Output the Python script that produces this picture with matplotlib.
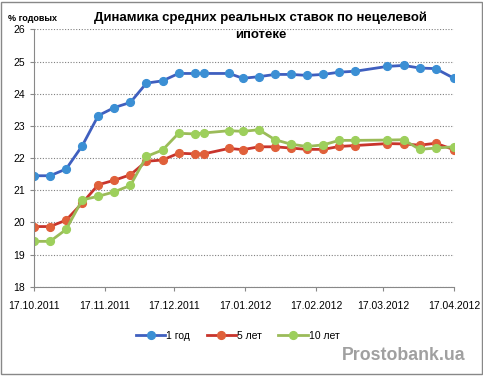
import datetime as dt
from matplotlib import pyplot as plt
import matplotlib.dates as mdates
from matplotlib.patches import Rectangle

plt.rcParams['font.family'] = ['Liberation Sans', 'DejaVu Sans']

dates = ["17.10.2011", "24.10.2011", "31.10.2011", "07.11.2011", "14.11.2011",
         "21.11.2011", "28.11.2011", "05.12.2011", "12.12.2011", "19.12.2011",
         "26.12.2011", "30.12.2011", "10.01.2012", "16.01.2012", "23.01.2012",
         "30.01.2012", "06.02.2012", "13.02.2012", "20.02.2012", "27.02.2012",
         "05.03.2012", "19.03.2012", "26.03.2012", "02.04.2012", "09.04.2012",
         "17.04.2012"]
y1 = [21.45, 21.45, 21.66, 22.38, 23.32, 23.57, 23.73, 24.33, 24.40, 24.63,
      24.63, 24.63, 24.63, 24.48, 24.53, 24.60, 24.60, 24.57, 24.60, 24.67,
      24.70, 24.85, 24.88, 24.80, 24.78, 24.48]
y5 = [19.87, 19.87, 20.07, 20.60, 21.17, 21.31, 21.48, 21.90, 21.94, 22.15,
      22.13, 22.13, 22.30, 22.26, 22.35, 22.35, 22.31, 22.27, 22.27, 22.36,
      22.39, 22.45, 22.44, 22.40, 22.46, 22.26]
y10 = [19.41, 19.41, 19.78, 20.70, 20.81, 20.95, 21.15, 22.05, 22.25, 22.77,
       22.75, 22.78, 22.85, 22.83, 22.88, 22.57, 22.43, 22.36, 22.41, 22.55,
       22.55, 22.56, 22.57, 22.27, 22.31, 22.35]
labels = ["1 год", "5 лет", "10 лет"]

x = [dt.datetime.strptime(d, "%d.%m.%Y") for d in dates]

fig = plt.figure(figsize=(4.83, 3.76), dpi=100)
ax = fig.add_axes([0.0704, 0.2375, 0.8696, 0.6843])

styles = [("#3f5fbf", "#3b8fd4"), ("#c8342c", "#e0603a"), ("#9bbb59", "#9dcf5c")]
for y, lab, (lc, mc) in zip([y1, y5, y10], labels, styles):
    ax.plot(x, y, color=lc, lw=2.0, marker="o", ms=5.6,
            mfc=mc, mec=mc, label=lab)

ax.set_ylim(18, 26)
ax.set_yticks(range(18, 27))
ax.set_xlim(x[0], x[-1])
ax.xaxis.set_major_locator(mdates.MonthLocator(bymonthday=17))
ax.xaxis.set_major_formatter(mdates.DateFormatter("%d.%m.%Y"))

ax.grid(axis="y", ls=(0, (1, 1.5)), color="#808080", lw=0.8)
ax.set_axisbelow(True)
for s in ["top", "right"]:
    ax.spines[s].set_visible(False)
for s in ["left", "bottom"]:
    ax.spines[s].set_color("#888888")
ax.tick_params(colors="#888888", labelcolor="black", labelsize=7.5, length=3)
ax.tick_params(axis="x", pad=7)

fig.text(0.54, 0.93, "Динамика средних реальных ставок по нецелевой\nипотеке",
         ha="center", va="center", fontsize=9.5, fontweight="bold",
         linespacing=1.5)
fig.text(0.017, 0.952, "% годовых", fontsize=6.5, fontweight="bold", va="center")

ax.legend(loc="center", bbox_to_anchor=(0.485, -0.19), ncol=3, frameon=False,
          fontsize=7.5, handlelength=2.8, handletextpad=0.1, columnspacing=1.6)

fig.text(0.963, 0.055, "Prostobank.ua", ha="right", va="center",
         fontsize=12.8, fontweight="bold", color="#a0a0a0")

fig.add_artist(Rectangle((0.002, 0.004), 0.995, 0.992, transform=fig.transFigure,
                         fill=False, ec="#888888", lw=1))

fig.savefig("out.png", dpi=100)
